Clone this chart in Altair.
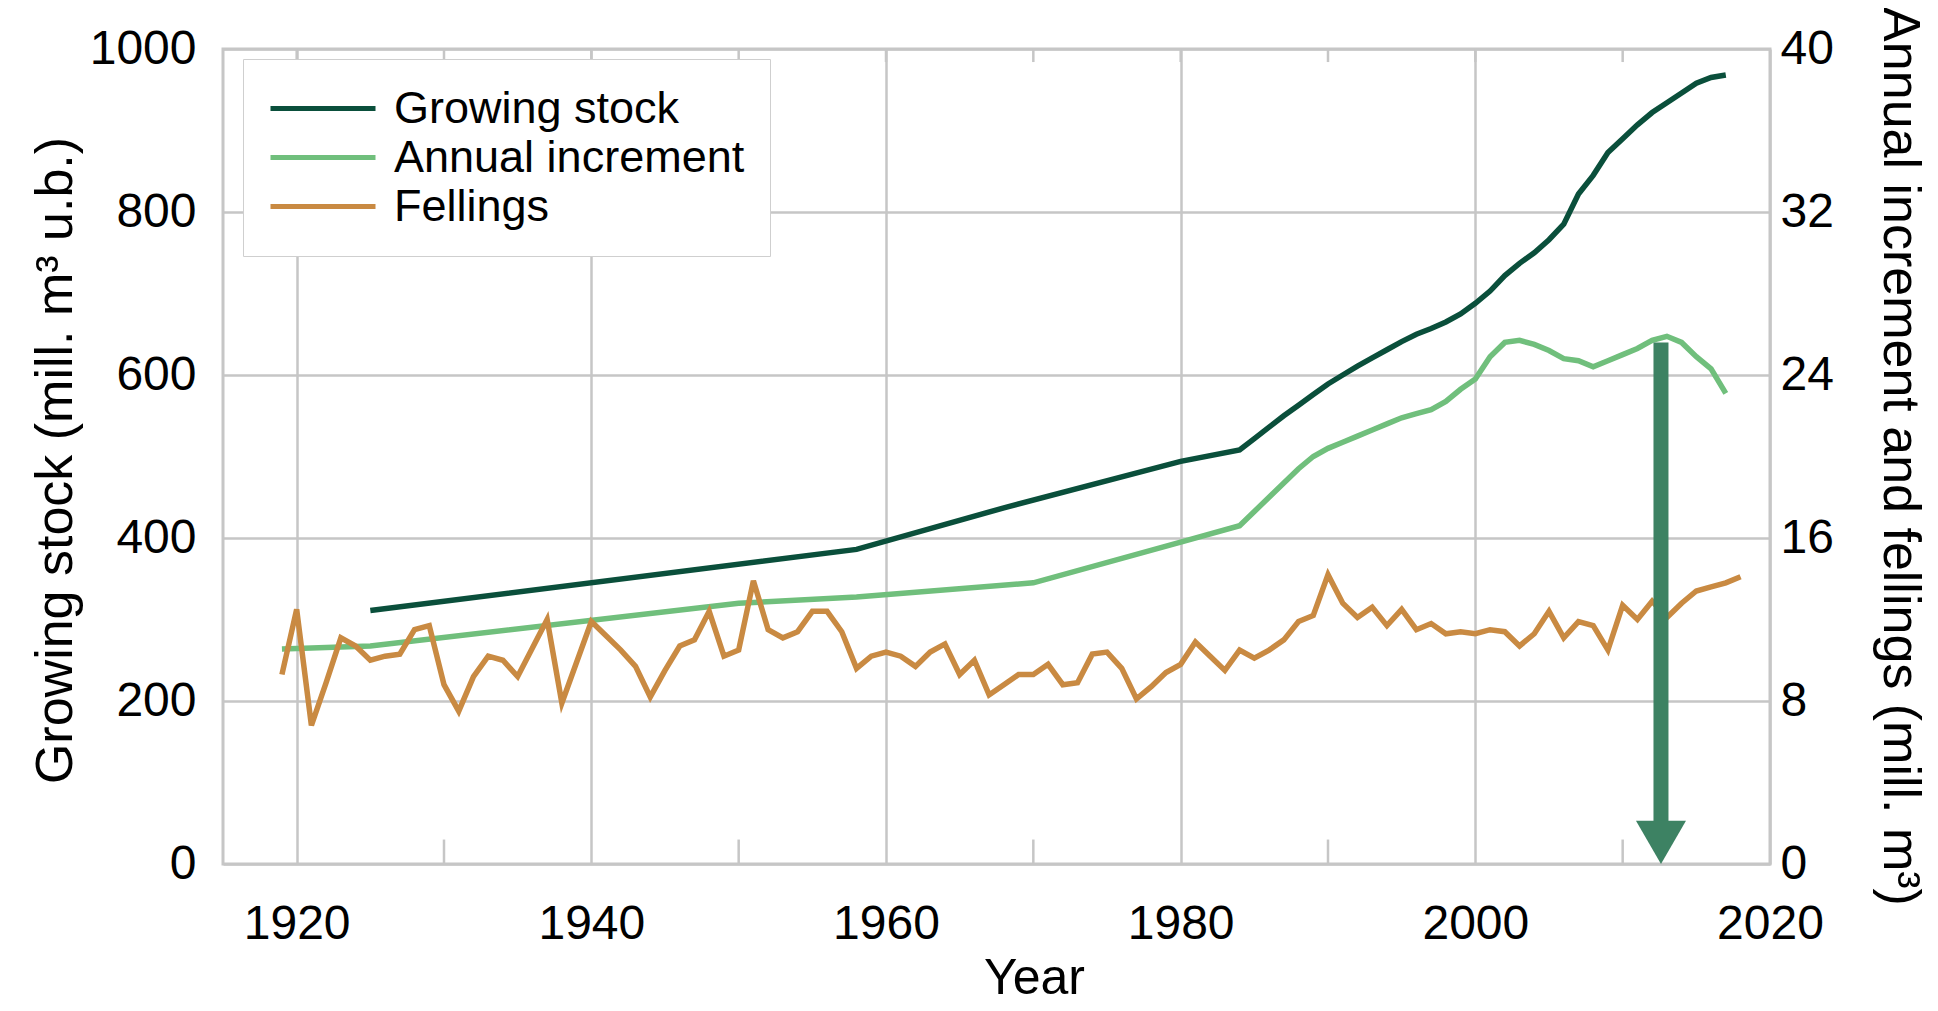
import altair as alt
import pandas as pd

FONT = "Liberation Sans"

# ---------------- data ----------------
gs_years = [1925, 1958, 1968, 1980, 1984, 1985, 1986, 1987, 1988, 1989, 1990,
            1991, 1992, 1993, 1994, 1995, 1996, 1997, 1998, 1999, 2000, 2001,
            2002, 2003, 2004, 2005, 2006, 2007, 2008, 2009, 2010, 2011, 2012,
            2013, 2014, 2015, 2016, 2017]
gs_values = [311, 386, 437, 494, 508, 522, 536, 550, 563, 576, 589,
             600, 611, 621, 631, 641, 650, 657, 665, 675, 688, 703,
             722, 737, 750, 766, 785, 822, 845, 873, 890, 907, 922,
             934, 946, 958, 965, 968]

inc_years = [1919, 1925, 1950, 1958, 1970, 1980, 1984, 1985, 1986, 1987, 1988,
             1989, 1990, 1991, 1992, 1993, 1994, 1995, 1996, 1997, 1998, 1999,
             2000, 2001, 2002, 2003, 2004, 2005, 2006, 2007, 2008, 2009, 2010,
             2011, 2012, 2013, 2014, 2015, 2016, 2017]
inc_values = [10.55, 10.7, 12.8, 13.1, 13.8, 15.8, 16.6, 17.3, 18.0, 18.7, 19.4,
              20.0, 20.4, 20.7, 21.0, 21.3, 21.6, 21.9, 22.1, 22.3, 22.7, 23.3,
              23.8, 24.9, 25.6, 25.7, 25.5, 25.2, 24.8, 24.7, 24.4, 24.7, 25.0,
              25.3, 25.7, 25.9, 25.6, 24.9, 24.3, 23.1]

fell_years = list(range(1919, 2019))
fell_values = [9.3, 12.5, 6.8, 8.9, 11.1, 10.7, 10.0, 10.2, 10.3, 11.5,
               11.7, 8.8, 7.5, 9.2, 10.2, 10.0, 9.2, 10.6, 12.0, 7.9,
               9.9, 11.9, 11.2, 10.5, 9.7, 8.2, 9.5, 10.7, 11.0, 12.4,
               10.2, 10.5, 13.9, 11.5, 11.1, 11.4, 12.4, 12.4, 11.4, 9.6,
               10.2, 10.4, 10.2, 9.7, 10.4, 10.8, 9.3, 10.0, 8.3, 8.8,
               9.3, 9.3, 9.8, 8.8, 8.9, 10.3, 10.4, 9.6, 8.1, 8.7,
               9.4, 9.8, 10.9, 10.2, 9.5, 10.5, 10.1, 10.5, 11.0, 11.9,
               12.2, 14.2, 12.8, 12.1, 12.6, 11.7, 12.5, 11.5, 11.8, 11.3,
               11.4, 11.3, 11.5, 11.4, 10.7, 11.3, 12.4, 11.1, 11.9, 11.7,
               10.5, 12.7, 12.0, 12.9, 12.1, 12.8, 13.4, 13.6, 13.8, 14.1]

series_names = ["Growing stock", "Annual increment", "Fellings"]
series_colors = ["#0a4f3b", "#70bf7c", "#c98a42"]

x_tick_values = [1920, 1940, 1960, 1980, 2000, 2020]
left_tick_values = [0, 200, 400, 600, 800, 1000]
right_tick_values = [0, 8, 16, 24, 32, 40]

minor_tick_years = [1930, 1950, 1970, 1990, 2010,
                    1920, 1930, 1940, 1950, 1960, 1970, 1980, 1990, 2000, 2010]
minor_tick_lo = [0, 0, 0, 0, 0,
                 984, 984, 984, 984, 984, 984, 984, 984, 984, 984]
minor_tick_hi = [30, 30, 30, 30, 30,
                 1000, 1000, 1000, 1000, 1000, 1000, 1000, 1000, 1000, 1000]

arrow_year = [2012.6]
arrow_top = [640]
arrow_shaft_end = [50]
arrow_head_center = [26.5]
ARROW_COLOR = "#3d8263"

GRID = "#c6c6c6"
LW = 5.5

# ---------------- tables ----------------
gs_df = pd.DataFrame({"year": gs_years, "value": gs_values,
                      "series": series_names[0]})
right_df = pd.concat([
    pd.DataFrame({"year": inc_years, "value": inc_values, "series": series_names[1]}),
    pd.DataFrame({"year": fell_years, "value": fell_values, "series": series_names[2]}),
], ignore_index=True)
ticks_df = pd.DataFrame({"year": minor_tick_years, "lo": minor_tick_lo,
                         "hi": minor_tick_hi})
arrow_df = pd.DataFrame({"year": arrow_year, "top": arrow_top,
                         "end": arrow_shaft_end, "head": arrow_head_center})

# ---------------- scales / axes ----------------
x_scale = alt.Scale(domain=[1915, 2020], nice=False)
x_axis = alt.Axis(values=x_tick_values, format="d", title="Year", grid=True,
                  gridColor=GRID, gridWidth=2.5, domain=False, ticks=False,
                  tickSize=0, labelFlush=False, labelOverlap=False,
                  labelFontSize=48, labelPadding=36, labelColor="black",
                  titleFontSize=50, titleFontWeight="normal", titleColor="black",
                  titleX=811, titleY=129, titleBaseline="alphabetic",
                  titleAlign="center")
X = alt.X("year:Q", scale=x_scale, axis=x_axis)

left_scale = alt.Scale(domain=[0, 1000], nice=False)
left_axis = alt.Axis(orient="left", values=left_tick_values, format="d",
                     title="Growing stock (mill. m³ u.b.)", grid=True,
                     gridColor=GRID, gridWidth=2.5, domain=False, ticks=False,
                     tickSize=0, labelFlush=False, labelFontSize=48,
                     labelPadding=27, labelColor="black", titleFontSize=52,
                     titleFontWeight="normal", titleColor="black",
                     titleAngle=270, titleX=-168, titleY=411,
                     titleBaseline="middle", titleAlign="center")

right_scale = alt.Scale(domain=[0, 40], nice=False)
right_axis = alt.Axis(orient="right", values=right_tick_values, format="d",
                      title="Annual increment and fellings (mill. m³)",
                      grid=False, domain=False, ticks=False, tickSize=0,
                      labelFlush=False, labelFontSize=48, labelPadding=10,
                      labelColor="black", titleFontSize=52,
                      titleFontWeight="normal", titleColor="black",
                      titleAngle=90, titleX=129, titleY=407,
                      titleBaseline="middle", titleAlign="center")

color = alt.Color("series:N",
                  scale=alt.Scale(domain=series_names, range=series_colors),
                  legend=alt.Legend(title=None, orient="none", legendX=20,
                                    legendY=10, symbolType="stroke",
                                    symbolSize=11025, symbolStrokeWidth=5,
                                    labelFontSize=45, labelFont=FONT,
                                    labelColor="black", labelOffset=16,
                                    clipHeight=49, rowPadding=0, padding=25,
                                    strokeColor="#cfcfcf", fillColor="white",
                                    labelLimit=0))

# ---------------- layers ----------------
ticks_layer = alt.Chart(ticks_df).mark_rule(color=GRID, strokeWidth=2.5).encode(
    x=X,
    y=alt.Y("lo:Q", scale=left_scale, axis=None),
    y2="hi:Q",
)

gs_line = alt.Chart(gs_df).mark_line(strokeWidth=LW).encode(
    x=X,
    y=alt.Y("value:Q", scale=left_scale, axis=left_axis),
    color=color,
)

right_lines = alt.Chart(right_df).mark_line(strokeWidth=LW).encode(
    x=X,
    y=alt.Y("value:Q", scale=right_scale, axis=right_axis),
    color=color,
    order=alt.Order("year:Q"),
)

arrow_shaft = alt.Chart(arrow_df).mark_rule(color=ARROW_COLOR, strokeWidth=15,
                                            strokeCap="butt").encode(
    x=X,
    y=alt.Y("top:Q", scale=left_scale, axis=None),
    y2="end:Q",
)

arrow_head = alt.Chart(arrow_df).mark_point(shape="triangle-down", size=2500,
                                            filled=True, opacity=1,
                                            color=ARROW_COLOR,
                                            strokeWidth=0).encode(
    x=X,
    y=alt.Y("head:Q", scale=left_scale, axis=None),
)

chart = alt.layer(ticks_layer, gs_line, right_lines, arrow_shaft, arrow_head
                  ).resolve_scale(y="independent").properties(
    width=1547,
    height=815,
    autosize=alt.AutoSizeParams(type="none"),
    padding={"left": 215, "top": 41, "right": 160, "bottom": 139},
    background="white",
).configure_view(
    stroke=GRID, strokeWidth=3
).configure_axis(
    labelFont=FONT, titleFont=FONT
).configure_legend(
    labelFont=FONT
)

chart.save("out.html", embed_options={"renderer": "svg", "actions": False})
